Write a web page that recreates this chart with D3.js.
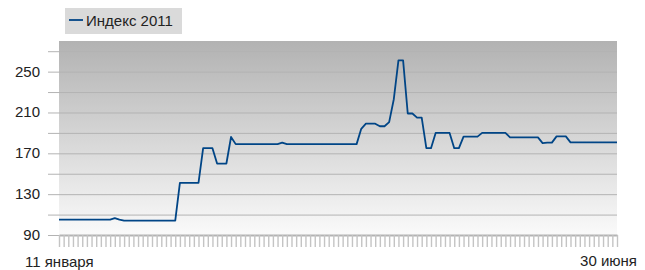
<!DOCTYPE html>
<html>
    <head>
        <meta charset="utf-8">
        <title>Индекс 2011</title>
        <style>
         body { margin: 0; background: #fff; }
         svg text { font-family: "Liberation Sans", Arial, sans-serif; fill: #222; }
        </style>
    </head>
    <body>
        <div id="chart"></div>
        <script src="https://cdn.jsdelivr.net/npm/d3@7"></script>
        <script>
         // index values, one per trading day (11 Jan .. 30 Jun)
         var seriesName = "Индекс 2011"
         var values = [
             105,105,105,105,105,105,105,105,105,105,105,105,
             106.5,105,
             104,104,104,104,104,104,104,104,104,104,104,104,
             141,141,141,141,141,
             175,175,175,
             160,160,160,
             186,
             179,179,179,179,179,179,179,179,179,179,
             180.5,
             179,179,179,179,179,179,179,179,179,179,179,179,179,179,179,179,
             194,
             199,199,199,
             196.5,196.5,
             200.5,223,
             261,261,
             209,209,
             205,205,
             175,175,
             190,190,190,190,
             175,175,
             186.3,186.3,186.3,186.3,
             190,190,190,190,190,190,
             185.6,185.6,185.6,185.6,185.6,185.6,185.6,
             180,180.5,180.5,
             186.6,186.6,186.6,
             180.7,180.7,180.7,180.7,180.7,180.7,180.7,180.7,180.7,180.7,180.7
         ]
         var xLabels = ["11 января", "30 июня"]
         var yLabelTicks = [90, 130, 170, 210, 250]
         var yGridTicks = [90, 110, 130, 150, 170, 190, 210, 230, 250, 270]

         var W = 645, H = 270
         var m = {left: 59, right: 28, top: 41, bottom: 35}

         var svg = d3.select("#chart").append("svg")
                     .attr("width", W).attr("height", H)

         var x = d3.scaleLinear()
                   .domain([0, values.length - 1])
                   .range([m.left, W - m.right])
         var y = d3.scaleLinear()
                   .domain([90, 280])
                   .range([H - m.bottom, m.top])

         var defs = svg.append("defs")
         var grad = defs.append("linearGradient")
                        .attr("id", "bg").attr("x1", 0).attr("y1", 0).attr("x2", 0).attr("y2", 1)
         grad.append("stop").attr("offset", "0%").attr("stop-color", "#b2b2b2")
         grad.append("stop").attr("offset", "100%").attr("stop-color", "#fafafa")

         svg.append("rect")
            .attr("x", m.left).attr("y", m.top)
            .attr("width", W - m.right - m.left)
            .attr("height", H - m.bottom - m.top)
            .attr("fill", "url(#bg)")

         // horizontal grid + left ticks
         svg.append("g")
            .attr("transform", "translate(" + m.left + ",0)")
            .call(d3.axisLeft(y).tickValues(yGridTicks)
                    .tickSizeInner(-(W - m.right - m.left))
                    .tickSizeOuter(0).tickFormat(""))
            .call(function(g){
                g.select(".domain").remove()
                g.selectAll(".tick line").attr("stroke", "#b3b3b3").attr("stroke-width", 1)
            })
         svg.append("g")
            .attr("transform", "translate(" + m.left + ",0)")
            .call(d3.axisLeft(y).tickValues(yGridTicks).tickSize(11).tickFormat(""))
            .call(function(g){
                g.select(".domain").remove()
                g.selectAll(".tick line").attr("stroke", "#b3b3b3")
            })

         // y labels
         svg.append("g").selectAll("text")
            .data(yLabelTicks)
            .enter().append("text")
            .attr("x", 40)
            .attr("y", function(d){ return y(d) + 5 })
            .attr("text-anchor", "end")
            .style("font-size", "15px")
            .text(function(d){ return d })

         // x axis ticks
         svg.append("g")
            .attr("transform", "translate(0," + (H - m.bottom) + ")")
            .call(d3.axisBottom(x).tickValues(d3.range(values.length))
                    .tickSize(12).tickSizeOuter(0).tickFormat(""))
            .call(function(g){
                g.select(".domain").attr("stroke", "#b3b3b3").attr("stroke-width", 2)
                g.selectAll(".tick line").attr("stroke", "#c4c4c4").attr("stroke-width", 1.4)
            })

         svg.append("text")
            .attr("x", x(0) - 34).attr("y", 267)
            .style("font-size", "15px")
            .text(xLabels[0])
         svg.append("text")
            .attr("x", x(values.length - 1) + 20).attr("y", 266)
            .attr("text-anchor", "end")
            .style("font-size", "15px")
            .text(xLabels[1])

         // the line
         var line = d3.line()
                      .x(function(d, i){ return x(i) })
                      .y(function(d){ return y(d) })
         svg.append("path")
            .datum(values)
            .attr("fill", "none")
            .attr("stroke", "#004586")
            .attr("stroke-width", 1.8)
            .attr("stroke-linejoin", "round")
            .attr("d", line)

         // legend
         var lg = svg.append("g")
         lg.append("rect")
           .attr("x", 65).attr("y", 8).attr("width", 117).attr("height", 26)
           .attr("fill", "#dadada")
         lg.append("line")
           .attr("x1", 69).attr("x2", 83).attr("y1", 20).attr("y2", 20)
           .attr("stroke", "#004586").attr("stroke-width", 1.8)
         lg.append("text")
           .attr("x", 86).attr("y", 26)
           .style("font-size", "15px")
           .text(seriesName)
        </script>
    </body>
</html>
